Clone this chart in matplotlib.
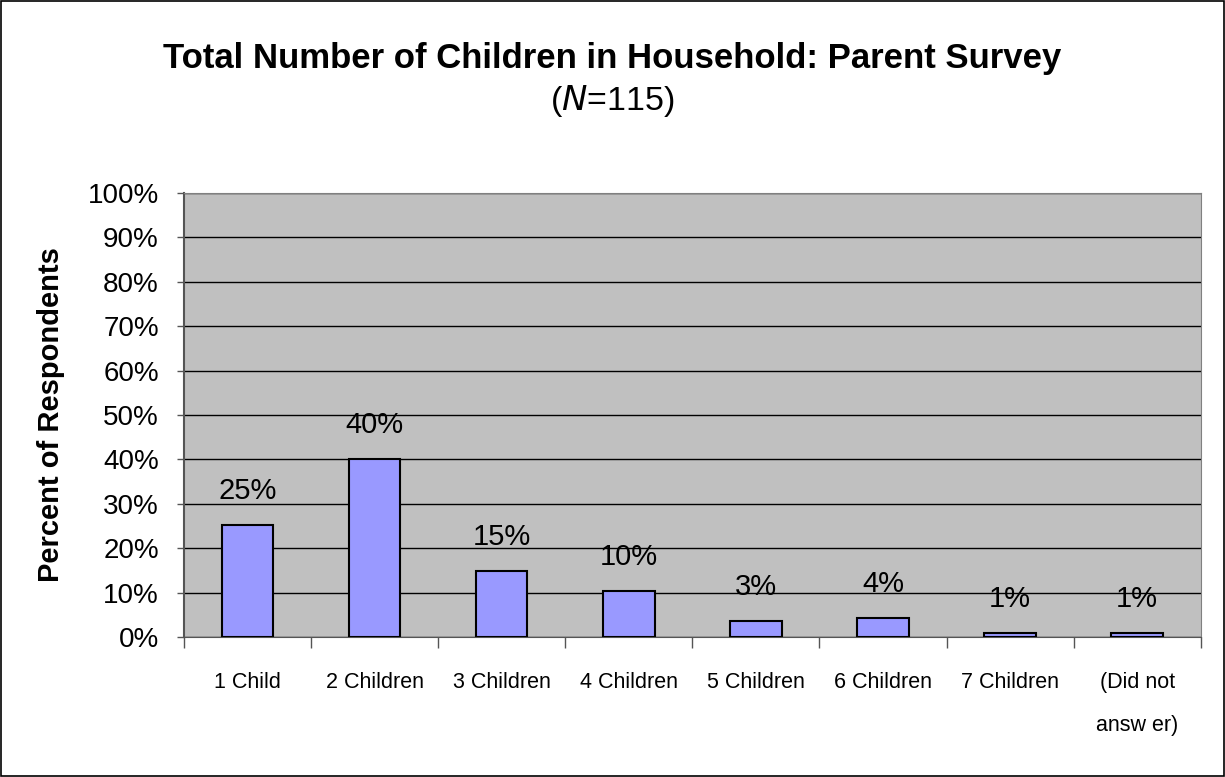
import matplotlib.pyplot as plt
from matplotlib.patches import Rectangle

categorias = ['1 Child', '2 Children', '3 Children', '4 Children', '5 Children',
              '6 Children', '7 Children', '(Did not\nansw er)']
valores = [25.2, 40.0, 14.8, 10.4, 3.5, 4.3, 0.9, 0.9]
rotulos = ['25%', '40%', '15%', '10%', '3%', '4%', '1%', '1%']
yticks = list(range(0, 101, 10))

plt.rcParams['font.family'] = ['Liberation Sans', 'DejaVu Sans']

fig = plt.figure(figsize=(12.25, 7.77), dpi=100)
fig.patches.append(Rectangle((0.0005, 0.0008), 0.999, 0.998, transform=fig.transFigure,
                             fill=False, edgecolor='black', linewidth=1.2))
ax = fig.add_axes([0.1502, 0.1802, 0.830, 0.5714])
ax.set_facecolor('#C0C0C0')

x = list(range(len(categorias)))
ax.bar(x, valores, width=0.405, color='#9999FF', edgecolor='black', linewidth=1.5, zorder=3)
for xi, v, r in zip(x, valores, rotulos):
    ax.annotate(r, (xi, v), xytext=(0, 24.5), textcoords='offset points',
                ha='center', va='center', fontsize=21, zorder=4)

ax.set_xlim(-0.5, len(categorias) - 0.5)
ax.set_ylim(0, 100)
ax.set_yticks(yticks)
ax.set_yticklabels([f'{t}%' for t in yticks], fontsize=20)
ax.yaxis.grid(True, color='black', linewidth=1)
ax.set_axisbelow(True)

ax.set_xticks([i + 0.5 for i in range(-1, len(categorias))], minor=False)
ax.set_xticklabels([])
ax.tick_params(axis='x', direction='out', length=8, width=1, color='#555555')
ax.tick_params(axis='y', direction='out', length=5, width=1, color='#555555', pad=13)
ax.set_xticks(x, minor=True)
ax.set_xticklabels(categorias, minor=True, fontsize=15.5,
                   family=['Liberation Sans Narrow', 'Liberation Sans', 'DejaVu Sans'],
                   linespacing=2.4, va='top')
ax.tick_params(axis='x', which='minor', length=0, pad=25)

for s in ['top', 'right']:
    ax.spines[s].set_color('#808080')
ax.spines['left'].set_color('#555555')
ax.spines['bottom'].set_color('#555555')
ax.spines['left'].set_linewidth(1.5)

ax.set_ylabel('Percent of Respondents', fontsize=21, fontweight='bold', va='center')
ax.yaxis.set_label_coords(-0.131, 0.5)

fig.text(0.5, 0.925, 'Total Number of Children in Household: Parent Survey',
         ha='center', va='center', fontsize=25, fontweight='bold')
fig.text(0.5, 0.87, r'($\mathit{N}$=115)', ha='center', va='center', fontsize=24.5)

fig.savefig('out.png', dpi=100)
